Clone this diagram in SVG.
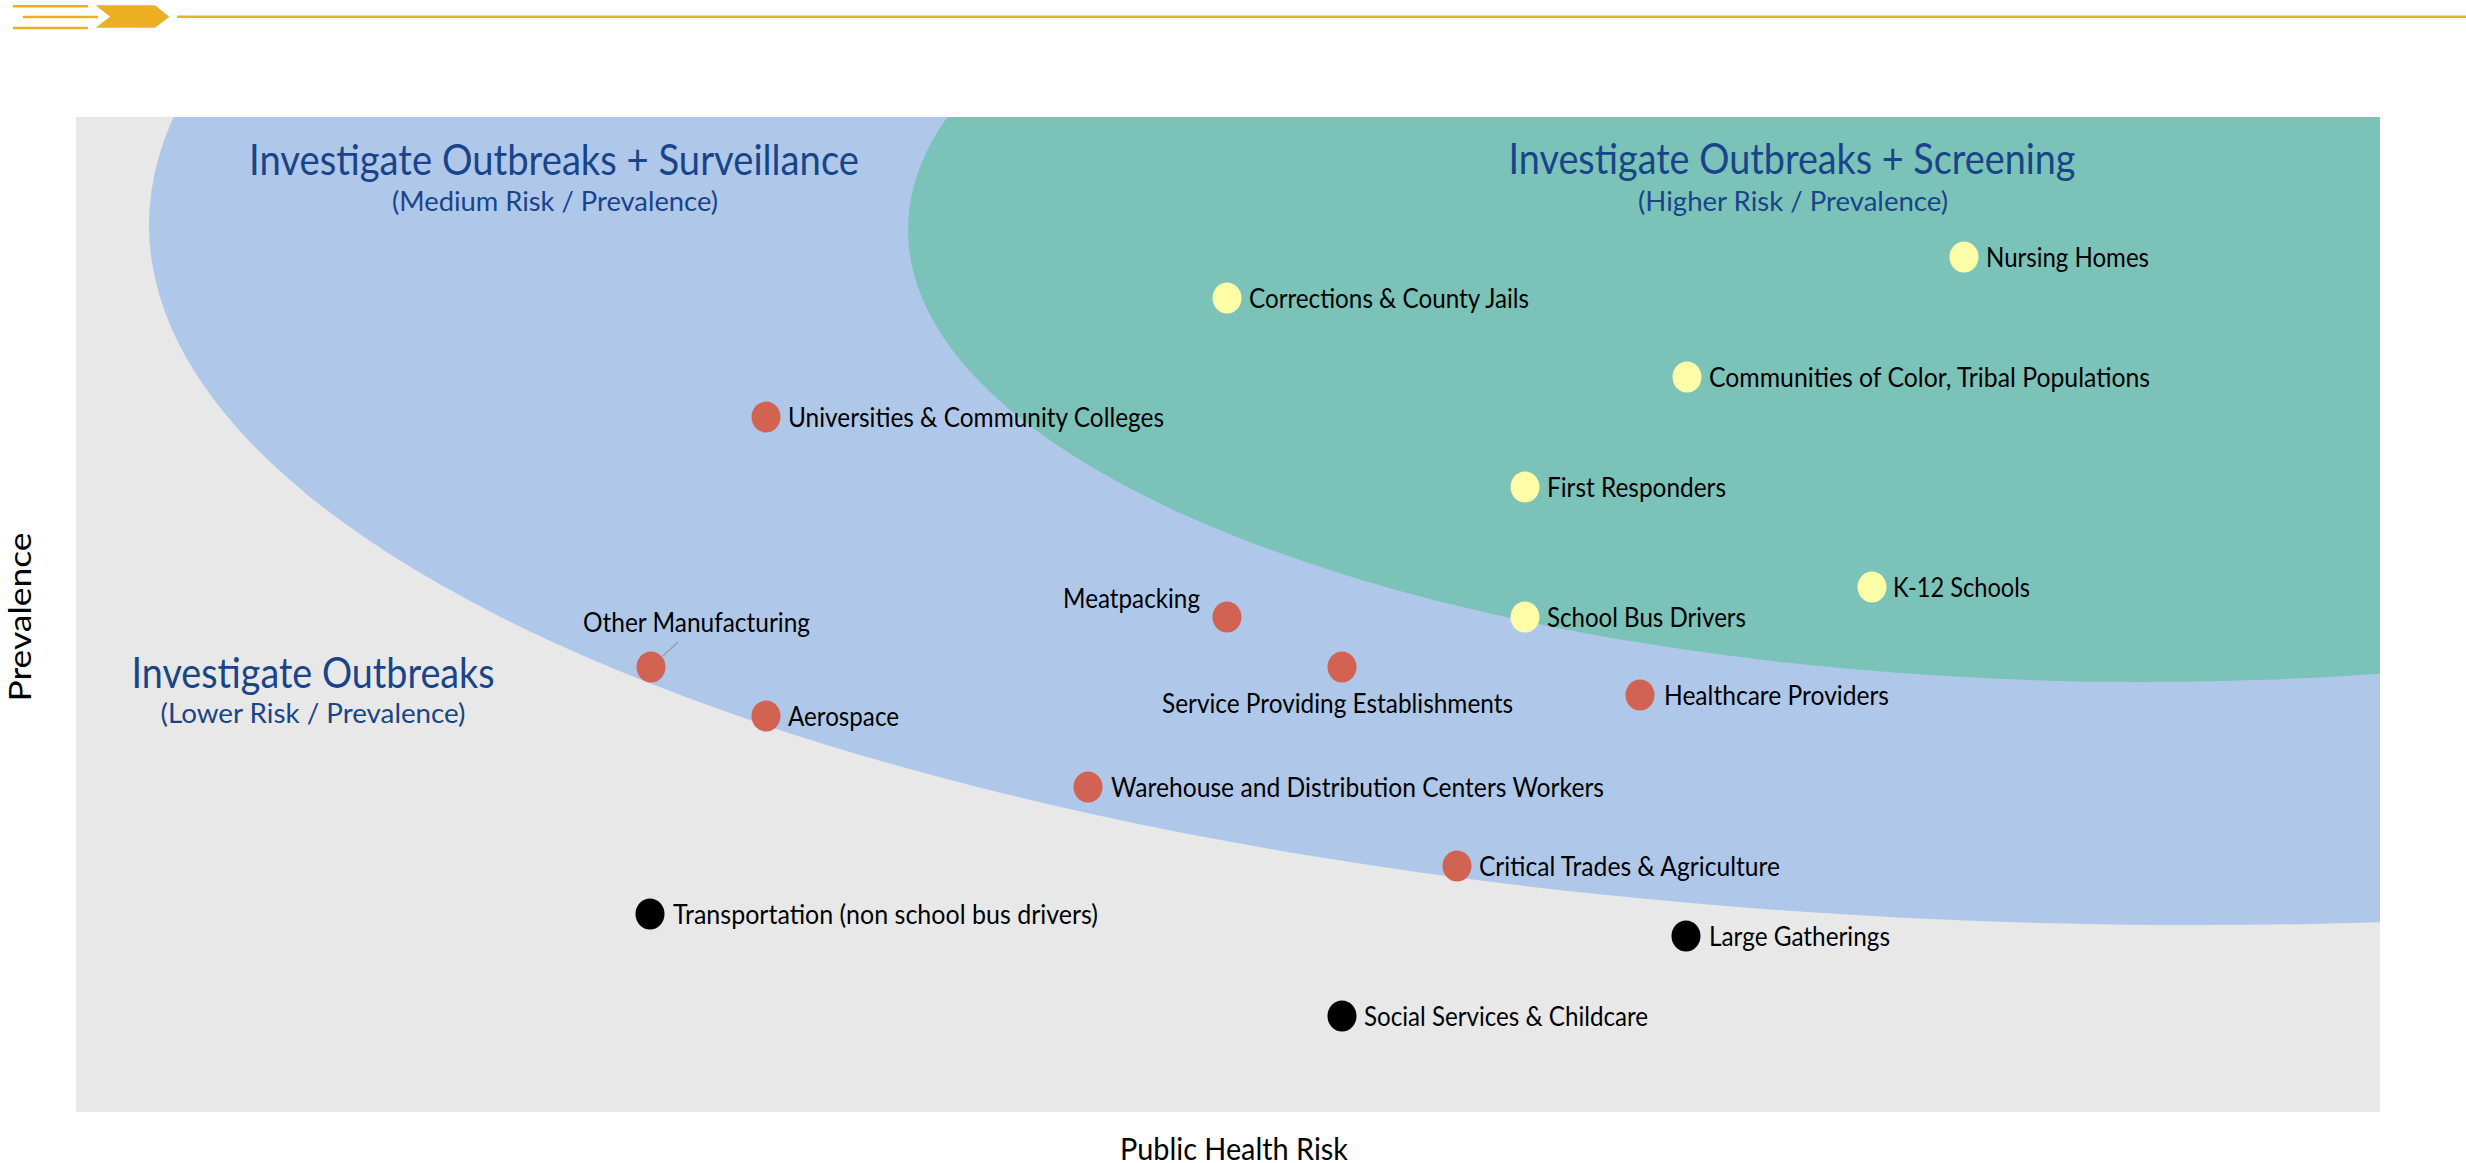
<svg xmlns="http://www.w3.org/2000/svg" width="2466" height="1163" viewBox="0 0 2466 1163">
  <style>
    .lbl { font-family: Lato, "Open Sans", "Liberation Sans", sans-serif; font-size: 27px; fill: #000000; }
    .ttl { font-family: Lato, "Open Sans", "Liberation Sans", sans-serif; font-size: 42px; fill: #19448A; font-weight: 400; }
    .sub { font-family: Lato, "Open Sans", "Liberation Sans", sans-serif; font-size: 26px; fill: #19448A; }
    .axis { font-family: Lato, "Open Sans", "Liberation Sans", sans-serif; font-size: 30px; fill: #000000; }
    .hdr { stroke: #EDAF22; stroke-width: 2.5; stroke-linecap: round; fill: none; }
    .red { fill: #D26353; }
    .yel { fill: #FEFDA8; }
    .blk { fill: #000000; }
    .leader { stroke: #9A9A9A; stroke-width: 1.2; fill: none; }
  </style>
  <defs>
    <clipPath id="plotClip">
      <rect x="76" y="117" width="2304" height="995"/>
    </clipPath>
  </defs>

  <rect x="0" y="0" width="2466" height="1163" fill="#FFFFFF"/>

  <!-- header rule -->
  <g id="header">
    <line class="hdr" x1="14" y1="6.3" x2="87" y2="6.3"/>
    <line class="hdr" x1="24" y1="17" x2="97" y2="17"/>
    <line class="hdr" x1="14" y1="28" x2="87" y2="28"/>
    <polygon points="95.7,5.3 155,5.3 169.3,16.7 155,27.7 95.7,27.7 110,16.7" fill="#EDAF22"/>
    <line class="hdr" x1="178" y1="16.7" x2="2466" y2="16.7" stroke-linecap="butt"/>
  </g>

  <!-- risk zones -->
  <g id="zones" clip-path="url(#plotClip)">
    <rect x="76" y="117" width="2304" height="995" fill="#E8E8E8"/>
    <ellipse cx="2200" cy="225" rx="2051" ry="700" fill="#AFC8EA"/>
    <ellipse cx="2144" cy="230" rx="1236" ry="452" fill="#7BC3B8"/>
  </g>

  <!-- zone titles -->
  <g id="zone-low">
    <text class="ttl" x="313" y="688" text-anchor="middle" textLength="363" lengthAdjust="spacingAndGlyphs">Investigate Outbreaks</text>
    <text class="sub" x="313" y="723" text-anchor="middle" textLength="305" lengthAdjust="spacingAndGlyphs">(Lower Risk / Prevalence)</text>
  </g>
  <g id="zone-medium">
    <text class="ttl" x="554" y="175" text-anchor="middle" textLength="610" lengthAdjust="spacingAndGlyphs">Investigate Outbreaks + Surveillance</text>
    <text class="sub" x="555" y="211" text-anchor="middle" textLength="326" lengthAdjust="spacingAndGlyphs">(Medium Risk / Prevalence)</text>
  </g>
  <g id="zone-high">
    <text class="ttl" x="1792" y="174" text-anchor="middle" textLength="567" lengthAdjust="spacingAndGlyphs">Investigate Outbreaks + Screening</text>
    <text class="sub" x="1793" y="211" text-anchor="middle" textLength="310" lengthAdjust="spacingAndGlyphs">(Higher Risk / Prevalence)</text>
  </g>

  <!-- connectors -->
  <g id="connectors">
    <line class="leader" x1="678" y1="642" x2="663" y2="656"/>
  </g>

  <!-- higher risk settings -->
  <g id="nursing-homes">
    <ellipse class="yel" cx="1964" cy="257" rx="14.5" ry="15.5"/>
    <text class="lbl" x="1986" y="267" textLength="163" lengthAdjust="spacingAndGlyphs">Nursing Homes</text>
  </g>
  <g id="corrections">
    <ellipse class="yel" cx="1227" cy="298" rx="14.5" ry="15.5"/>
    <text class="lbl" x="1249" y="308" textLength="280" lengthAdjust="spacingAndGlyphs">Corrections &amp; County Jails</text>
  </g>
  <g id="communities">
    <ellipse class="yel" cx="1687" cy="377" rx="14.5" ry="15.5"/>
    <text class="lbl" x="1709" y="387" textLength="441" lengthAdjust="spacingAndGlyphs">Communities of Color, Tribal Populations</text>
  </g>
  <g id="first-responders">
    <ellipse class="yel" cx="1525" cy="487" rx="14.5" ry="15.5"/>
    <text class="lbl" x="1547" y="497" textLength="179" lengthAdjust="spacingAndGlyphs">First Responders</text>
  </g>
  <g id="k12-schools">
    <ellipse class="yel" cx="1872" cy="587" rx="14.5" ry="15.5"/>
    <text class="lbl" x="1893" y="597" textLength="137" lengthAdjust="spacingAndGlyphs">K-12 Schools</text>
  </g>
  <g id="school-bus-drivers">
    <ellipse class="yel" cx="1525" cy="617" rx="14.5" ry="15.5"/>
    <text class="lbl" x="1547" y="627" textLength="199" lengthAdjust="spacingAndGlyphs">School Bus Drivers</text>
  </g>

  <!-- medium risk settings -->
  <g id="universities">
    <ellipse class="red" cx="766" cy="417" rx="14.5" ry="15.5"/>
    <text class="lbl" x="788" y="427" textLength="376" lengthAdjust="spacingAndGlyphs">Universities &amp; Community Colleges</text>
  </g>
  <g id="meatpacking">
    <ellipse class="red" cx="1227" cy="617" rx="14.5" ry="15.5"/>
    <text class="lbl" x="1063" y="608" textLength="137" lengthAdjust="spacingAndGlyphs">Meatpacking</text>
  </g>
  <g id="service-providing">
    <ellipse class="red" cx="1342" cy="667" rx="14.5" ry="15.5"/>
    <text class="lbl" x="1162" y="713" textLength="351" lengthAdjust="spacingAndGlyphs">Service Providing Establishments</text>
  </g>
  <g id="healthcare-providers">
    <ellipse class="red" cx="1640" cy="695" rx="14.5" ry="15.5"/>
    <text class="lbl" x="1664" y="705" textLength="225" lengthAdjust="spacingAndGlyphs">Healthcare Providers</text>
  </g>
  <g id="other-manufacturing">
    <ellipse class="red" cx="651" cy="667" rx="14.5" ry="15.5"/>
    <text class="lbl" x="583" y="632" textLength="227" lengthAdjust="spacingAndGlyphs">Other Manufacturing</text>
  </g>
  <g id="aerospace">
    <ellipse class="red" cx="766" cy="716" rx="14.5" ry="15.5"/>
    <text class="lbl" x="788" y="726" textLength="111" lengthAdjust="spacingAndGlyphs">Aerospace</text>
  </g>
  <g id="warehouse">
    <ellipse class="red" cx="1088" cy="787" rx="14.5" ry="15.5"/>
    <text class="lbl" x="1111" y="797" textLength="493" lengthAdjust="spacingAndGlyphs">Warehouse and Distribution Centers Workers</text>
  </g>
  <g id="critical-trades">
    <ellipse class="red" cx="1457" cy="866" rx="14.5" ry="15.5"/>
    <text class="lbl" x="1479" y="876" textLength="301" lengthAdjust="spacingAndGlyphs">Critical Trades &amp; Agriculture</text>
  </g>

  <!-- lower risk settings -->
  <g id="transportation">
    <ellipse class="blk" cx="650" cy="914" rx="14.5" ry="15.5"/>
    <text class="lbl" x="673" y="924" textLength="425" lengthAdjust="spacingAndGlyphs">Transportation (non school bus drivers)</text>
  </g>
  <g id="large-gatherings">
    <ellipse class="blk" cx="1686" cy="936" rx="14.5" ry="15.5"/>
    <text class="lbl" x="1709" y="946" textLength="181" lengthAdjust="spacingAndGlyphs">Large Gatherings</text>
  </g>
  <g id="social-services">
    <ellipse class="blk" cx="1342" cy="1016" rx="14.5" ry="15.5"/>
    <text class="lbl" x="1364" y="1026" textLength="284" lengthAdjust="spacingAndGlyphs">Social Services &amp; Childcare</text>
  </g>

  <!-- axis titles -->
  <g id="axis-x">
    <text class="axis" x="1234" y="1160" text-anchor="middle" textLength="228" lengthAdjust="spacingAndGlyphs">Public Health Risk</text>
  </g>
  <g id="axis-y">
    <text class="axis" transform="translate(31,617) rotate(-90)" x="0" y="0" text-anchor="middle" textLength="169" lengthAdjust="spacingAndGlyphs">Prevalence</text>
  </g>
</svg>
